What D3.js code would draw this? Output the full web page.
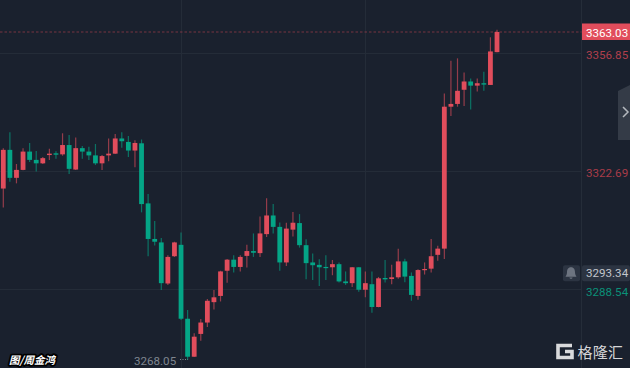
<!DOCTYPE html>
<html><head><meta charset="utf-8">
<script src="https://cdn.jsdelivr.net/npm/d3@7/dist/d3.min.js"></script>
<style>
html,body{margin:0;padding:0;background:#1a212e;overflow:hidden}
svg{display:block}
</style></head><body>
<script>
// Per-candle prices
const highs=[3329.4,3334.0,3324.8,3329.4,3330.9,3328.6,3326.8,3329.2,3328.5,3333.7,3333.2,3332.5,3330.0,3329.8,3330.6,3327.4,3332.2,3333.5,3334.0,3332.9,3331.7,3331.9,3316.1,3308.3,3303.4,3298.4,3302.3,3305.0,3282.5,3275.8,3279.9,3285.7,3288.3,3293.9,3297.3,3298.4,3298.4,3301.4,3304.7,3309.6,3314.9,3313.2,3307.9,3307.8,3310.9,3310.3,3303.0,3298.9,3297.2,3298.4,3297.0,3296.3,3293.7,3295.0,3295.0,3293.7,3293.7,3292.1,3297.0,3295.6,3300.3,3297.4,3293.4,3294.3,3296.3,3303.1,3301.1,3345.2,3354.7,3355.4,3351.3,3349.6,3349.6,3351.5,3361.5,3363.7];
const bodyTops=[3328.9,3328.9,3323.1,3328.4,3328.4,3326.0,3326.5,3327.8,3327.9,3330.3,3330.3,3329.4,3329.4,3328.4,3327.3,3327.1,3327.8,3332.2,3332.2,3331.2,3330.9,3330.8,3313.4,3303.1,3302.1,3297.9,3302.1,3301.4,3280.0,3274.8,3278.9,3285.2,3286.2,3293.7,3297.1,3297.1,3297.9,3299.6,3299.6,3304.7,3309.9,3309.9,3306.6,3306.1,3307.8,3307.7,3301.3,3296.3,3295.6,3295.0,3295.8,3295.8,3290.8,3294.9,3294.9,3290.3,3290.0,3291.7,3291.8,3292.0,3296.6,3296.6,3292.4,3294.1,3294.4,3298.1,3300.3,3341.4,3342.2,3346.0,3348.7,3348.7,3348.2,3348.2,3357.4,3363.03];
const bodyBottoms=[3317.7,3320.8,3320.8,3323.1,3326.0,3325.0,3325.0,3327.4,3327.5,3327.6,3323.4,3323.2,3328.4,3327.3,3325.0,3325.0,3327.3,3327.8,3331.4,3328.7,3328.7,3313.2,3303.1,3302.3,3290.3,3290.2,3298.1,3280.0,3269.0,3269.0,3275.6,3278.9,3284.8,3286.6,3293.9,3295.0,3295.0,3298.2,3299.1,3299.0,3304.5,3306.6,3296.3,3296.3,3305.8,3301.3,3296.1,3295.5,3294.9,3294.7,3294.9,3290.8,3290.3,3290.3,3288.4,3288.4,3283.4,3283.4,3291.4,3291.5,3292.0,3292.2,3286.9,3286.6,3294.1,3294.5,3298.5,3300.3,3341.4,3342.2,3346.3,3347.5,3347.5,3347.8,3347.7,3357.2];
const lows=[3312.2,3319.7,3319.2,3323.0,3325.4,3322.6,3324.8,3326.0,3326.3,3327.2,3321.9,3323.1,3326.3,3326.0,3324.5,3323.1,3325.6,3327.7,3329.5,3326.8,3323.9,3310.8,3298.1,3301.2,3288.3,3289.8,3297.9,3279.6,3268.05,3268.9,3273.6,3277.6,3282.7,3285.0,3290.4,3293.4,3293.7,3294.8,3297.9,3297.9,3303.7,3304.7,3293.9,3295.3,3303.8,3300.6,3291.4,3291.2,3289.5,3291.2,3292.6,3290.5,3289.8,3289.2,3287.8,3286.2,3281.7,3283.3,3290.5,3290.0,3291.6,3290.6,3285.2,3285.5,3292.8,3293.4,3296.8,3297.3,3338.7,3341.4,3341.6,3340.6,3345.8,3346.0,3347.7,3357.2];
const risingFlags=[1,0,1,1,0,0,1,1,0,1,0,1,0,0,0,1,1,1,0,0,1,0,0,0,0,1,1,0,0,1,1,1,1,1,1,0,1,1,0,1,1,0,0,1,1,0,0,0,0,0,1,0,0,1,0,1,0,1,0,1,1,0,0,1,1,1,1,1,1,1,1,0,1,0,1,1];
const tickPrices=[3356.85,3322.69,3288.54];
const tickColors=["#b03f4c","#a83c49","#0b9078"];
const lastPrice=3363.03, markPrice=3293.34, lowPrice=3268.05;
const credit="图/周金鸿", brand="格隆汇";

const W=630,H=368,RED="#e14d5c",GREEN="#04a586",BG="#1a212e",AXIS_X=581.5;
const x=d3.scaleLinear().domain([0,75]).range([3.3,497]);
const y=d3.scaleLinear().domain([lastPrice,lowPrice]).range([32,360]);
const fmt=d3.format(".2f");
const svg=d3.select("body").append("svg").attr("width",W).attr("height",H).style("background",BG);

// grid
const grid=svg.append("g").attr("stroke","#242c38").attr("stroke-width",1);
grid.selectAll("line.h").data(tickPrices).join("line").attr("class","h")
  .attr("x1",0).attr("x2",AXIS_X).attr("y1",d=>Math.round(y(d))+.5).attr("y2",d=>Math.round(y(d))+.5);
grid.selectAll("line.v").data([27,55]).join("line").attr("class","v")
  .attr("x1",d=>Math.round(x(d))+.5).attr("x2",d=>Math.round(x(d))+.5).attr("y1",0).attr("y2",H);
svg.append("line").attr("x1",AXIS_X).attr("x2",AXIS_X).attr("y1",0).attr("y2",H).attr("stroke","#252d39");

// last price line
svg.append("line").attr("x1",0).attr("x2",AXIS_X).attr("y1",y(lastPrice)).attr("y2",y(lastPrice))
  .attr("stroke","#b5414f").attr("stroke-opacity",.6).attr("stroke-dasharray","2.5 2");

// candles
const candles=svg.append("g").style("filter","blur(0.35px)");
const idx=d3.range(highs.length);
candles.selectAll("line").data(idx).join("line")
  .attr("x1",i=>x(i)).attr("x2",i=>x(i)).attr("y1",i=>y(highs[i])).attr("y2",i=>y(lows[i]))
  .attr("stroke",i=>risingFlags[i]?RED:GREEN).attr("stroke-width",1.2).attr("stroke-opacity",.62);
candles.selectAll("rect").data(idx).join("rect")
  .attr("x",i=>x(i)-2.4).attr("width",4.8)
  .attr("y",i=>y(bodyTops[i])).attr("height",i=>Math.max(1.2,y(bodyBottoms[i])-y(bodyTops[i])))
  .attr("fill",i=>risingFlags[i]?RED:GREEN);

// axis
const font="Roboto, 'Liberation Sans', sans-serif";
const axis=d3.axisRight(y).tickValues(tickPrices).tickSize(0).tickPadding(0).tickFormat(fmt);
const axG=svg.append("g").attr("transform","translate(586,0)").call(axis);
axG.select(".domain").remove();
axG.selectAll(".tick text").attr("font-family",font).attr("font-size",11.6)
  .attr("fill",(d,i)=>tickColors[i]).attr("transform",(d,i)=>`translate(0,${[1,1.5,2.2][i]})`);

// last price tag
svg.append("rect").attr("x",582).attr("y",23.5).attr("width",48).attr("height",16.5).attr("fill",RED);
svg.append("text").attr("x",586).attr("y",y(lastPrice)+4.7).attr("font-family",font).attr("font-size",11.6).attr("fill","#fff").text(fmt(lastPrice));

// mark price tag & bell
const markY=y(markPrice)+.6;
svg.append("rect").attr("x",582).attr("y",markY-8).attr("width",48).attr("height",16).attr("rx",2).attr("fill","#2c3442");
svg.append("text").attr("x",586).attr("y",markY+4.2).attr("font-family",font).attr("font-size",11.6).attr("fill","#c2c6cc").text(fmt(markPrice));
svg.append("rect").attr("x",563).attr("y",markY-8).attr("width",17).attr("height",16).attr("rx",2).attr("fill","#2c3442");
svg.append("path").attr("transform",`translate(571,${markY})`).attr("fill","#6d7480")
  .attr("d","M0,-6 C-3,-6 -4,-3.5 -4,-1 C-4,1.5 -5,2.5 -5.5,3.5 L5.5,3.5 C5,2.5 4,1.5 4,-1 C4,-3.5 3,-6 0,-6 Z M-1.6,4.3 L1.6,4.3 C1.4,6 -1.4,6 -1.6,4.3 Z");

// collapse tab
svg.append("path").attr("d","M630,85 L618,91 L618,140 L630,140 Z").attr("fill","#343b47");
svg.append("path").attr("d","M623,107 L628,112 L623,117").attr("fill","none").attr("stroke","#b4b8be").attr("stroke-width",1.5);

// low label
svg.append("text").attr("x",134).attr("y",365).attr("font-family",font).attr("font-size",11.6).attr("fill","#7f8690").text(fmt(lowPrice));
svg.append("line").attr("x1",180).attr("x2",188).attr("y1",y(lowPrice)-.5).attr("y2",y(lowPrice)-.5).attr("stroke","#7f8690").attr("stroke-dasharray","1 1.5");

// credit
svg.append("text").attr("x",9).attr("y",363.5).attr("font-family","'Noto Sans CJK SC'").attr("font-size",10.5).attr("font-weight",700).attr("font-style","italic")
  .attr("fill","#fff").attr("stroke","#000").attr("stroke-width",3.6).attr("stroke-linejoin","round").attr("paint-order","stroke").text(credit);

// brand
svg.append("path").attr("fill","none").attr("stroke","#d9dadc").attr("stroke-width",3.6)
  .attr("d","M572,345.5 L558,345.5 L558,357.5 L572,357.5 L572,351.5 L565,351.5");
svg.append("text").attr("x",577.5).attr("y",358).attr("font-family","'Noto Sans CJK SC'").attr("font-size",15).attr("fill","#d4d5d7").attr("textLength",45.5).text(brand);
</script>
</body></html>
